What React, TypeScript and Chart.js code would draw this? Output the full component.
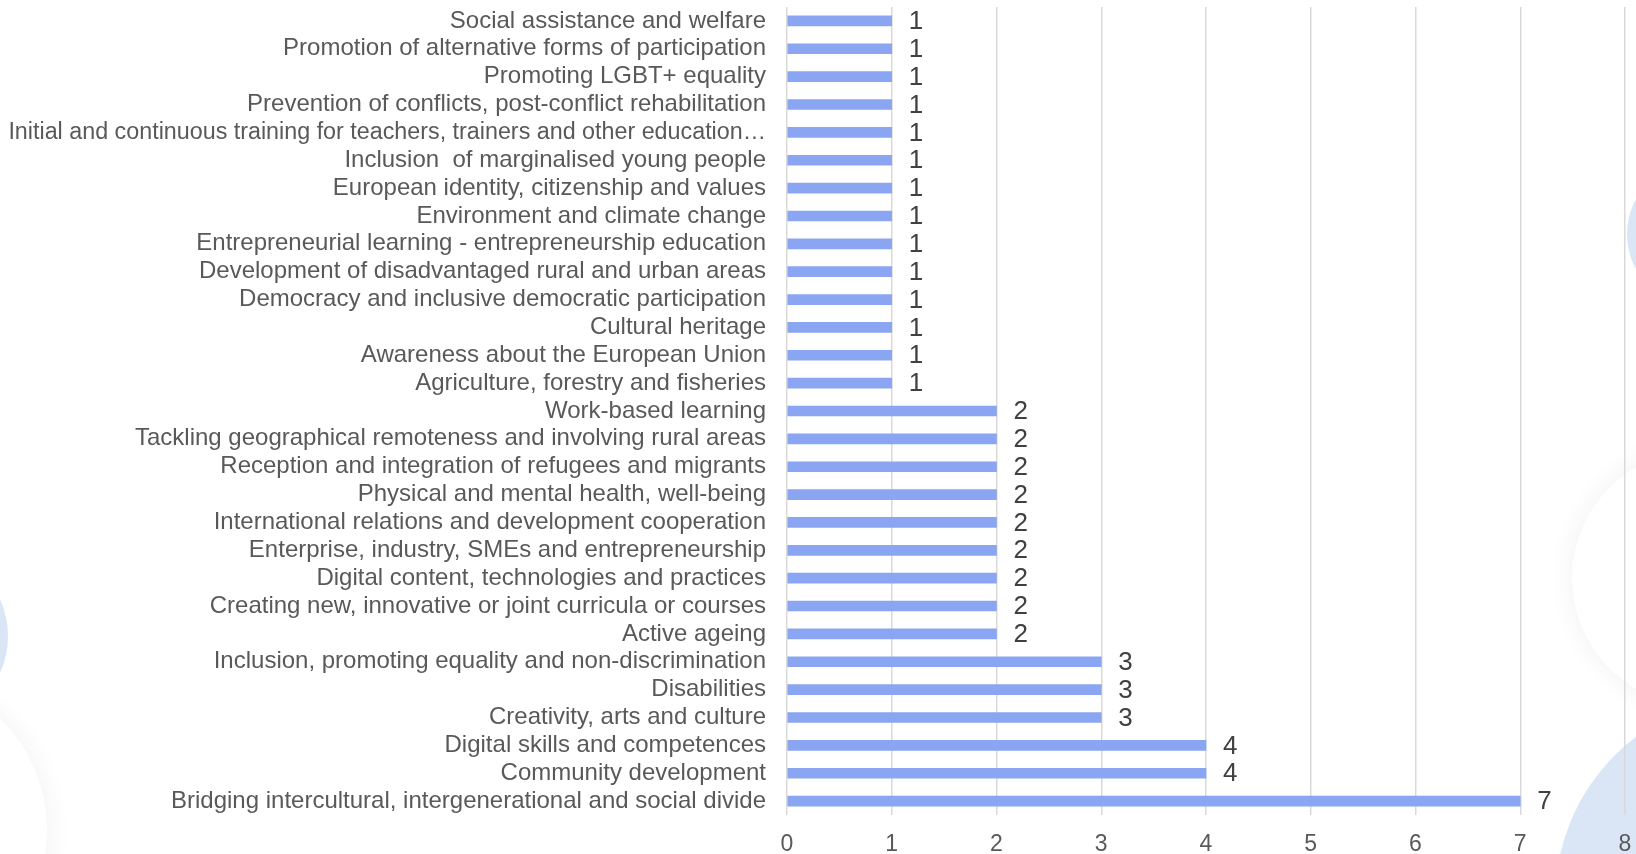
import React, { useEffect, useRef } from "react";
import { Chart, registerables } from "chart.js";

Chart.register(...registerables);

const categories: string[] = [
  "Social assistance and welfare",
  "Promotion of alternative forms of participation",
  "Promoting LGBT+ equality",
  "Prevention of conflicts, post-conflict rehabilitation",
  "Initial and continuous training for teachers, trainers and other education…",
  "Inclusion  of marginalised young people",
  "European identity, citizenship and values",
  "Environment and climate change",
  "Entrepreneurial learning - entrepreneurship education",
  "Development of disadvantaged rural and urban areas",
  "Democracy and inclusive democratic participation",
  "Cultural heritage",
  "Awareness about the European Union",
  "Agriculture, forestry and fisheries",
  "Work-based learning",
  "Tackling geographical remoteness and involving rural areas",
  "Reception and integration of refugees and migrants",
  "Physical and mental health, well-being",
  "International relations and development cooperation",
  "Enterprise, industry, SMEs and entrepreneurship",
  "Digital content, technologies and practices",
  "Creating new, innovative or joint curricula or courses",
  "Active ageing",
  "Inclusion, promoting equality and non-discrimination",
  "Disabilities",
  "Creativity, arts and culture",
  "Digital skills and competences",
  "Community development",
  "Bridging intercultural, intergenerational and social divide",
];

const counts: number[] = [
  1, 1, 1, 1, 1, 1, 1, 1, 1, 1, 1, 1, 1, 1,
  2, 2, 2, 2, 2, 2, 2, 2, 2,
  3, 3, 3,
  4, 4,
  7,
];

const xMin = 0;
const xMax = 8;

const FONT = "'Liberation Sans', Arial, sans-serif";

const backgroundPlugin = {
  id: "bgDecor",
  beforeDraw(chart: any) {
    const ctx = chart.ctx;
    ctx.save();
    ctx.fillStyle = "#ffffff";
    ctx.fillRect(0, 0, chart.width, chart.height);
    const faint = (cx: number, cy: number, r: number) => {
      ctx.save();
      ctx.shadowColor = "rgba(0,0,0,0.06)";
      ctx.shadowBlur = 28;
      ctx.fillStyle = "#ffffff";
      ctx.beginPath();
      ctx.arc(cx, cy, r, 0, Math.PI * 2);
      ctx.fill();
      ctx.restore();
    };
    faint(1700, 578, 128);
    faint(-110, 830, 157);
    ctx.fillStyle = "#dae6f5";
    ctx.beginPath();
    ctx.arc(-80, 636, 88, 0, Math.PI * 2);
    ctx.fill();
    ctx.beginPath();
    ctx.arc(1700, 234, 73, 0, Math.PI * 2);
    ctx.fill();
    ctx.beginPath();
    ctx.arc(1760, 900, 205, 0, Math.PI * 2);
    ctx.fill();
    ctx.restore();
  },
};

const valueLabelPlugin = {
  id: "valueLabels",
  afterDatasetsDraw(chart: any) {
    const ctx = chart.ctx;
    const meta = chart.getDatasetMeta(0);
    const data = chart.data.datasets[0].data as number[];
    ctx.save();
    ctx.font = `26px ${FONT}`;
    ctx.fillStyle = "#404040";
    ctx.textAlign = "left";
    ctx.textBaseline = "middle";
    meta.data.forEach((bar: any, i: number) => {
      ctx.fillText(String(data[i]), bar.x + 17, bar.y + 1);
    });
    ctx.restore();
  },
};

export default function App() {
  const canvasRef = useRef<HTMLCanvasElement | null>(null);

  useEffect(() => {
    document.body.style.margin = "0";
    const canvas = canvasRef.current;
    if (!canvas) return;
    const chart = new Chart(canvas, {
      type: "bar",
      data: {
        labels: categories,
        datasets: [
          {
            data: counts,
            backgroundColor: "#8aa5f1",
            barThickness: 10,
            borderWidth: 0,
          },
        ],
      },
      options: {
        indexAxis: "y",
        animation: false,
        responsive: false,
        maintainAspectRatio: false,
        layout: { padding: { top: 7, right: 11, left: 0, bottom: 0 } },
        plugins: {
          legend: { display: false },
          tooltip: { enabled: false },
          title: { display: false },
        },
        scales: {
          x: {
            min: xMin,
            max: xMax,
            ticks: {
              stepSize: 1,
              color: "#595959",
              font: { family: FONT, size: 23 },
              padding: 16,
            },
            grid: {
              color: "#d9d9d9",
              lineWidth: 1.5,
              drawTicks: false,
            },
            border: { display: false },
            afterFit(scale: any) {
              scale.height = 39;
              scale.paddingLeft = 0;
              scale.paddingRight = 0;
            },
          },
          y: {
            ticks: {
              autoSkip: false,
              color: "#595959",
              font: (ctx: any) => {
                const label = categories[ctx.index] || "";
                return { family: FONT, size: label.length > 70 ? 23.3 : 24 };
              },
              padding: 21,
            },
            grid: { display: false, drawTicks: false },
            border: { display: false },
            afterFit(scale: any) {
              scale.width = 787;
              scale.paddingTop = 0;
              scale.paddingBottom = 0;
            },
          },
        },
      },
      plugins: [backgroundPlugin, valueLabelPlugin],
    });
    return () => chart.destroy();
  }, []);

  return (
    <div style={{ position: "fixed", left: 0, top: 0, width: 1636, height: 854 }}>
      <canvas ref={canvasRef} width={1636} height={854} style={{ display: "block" }} />
    </div>
  );
}
